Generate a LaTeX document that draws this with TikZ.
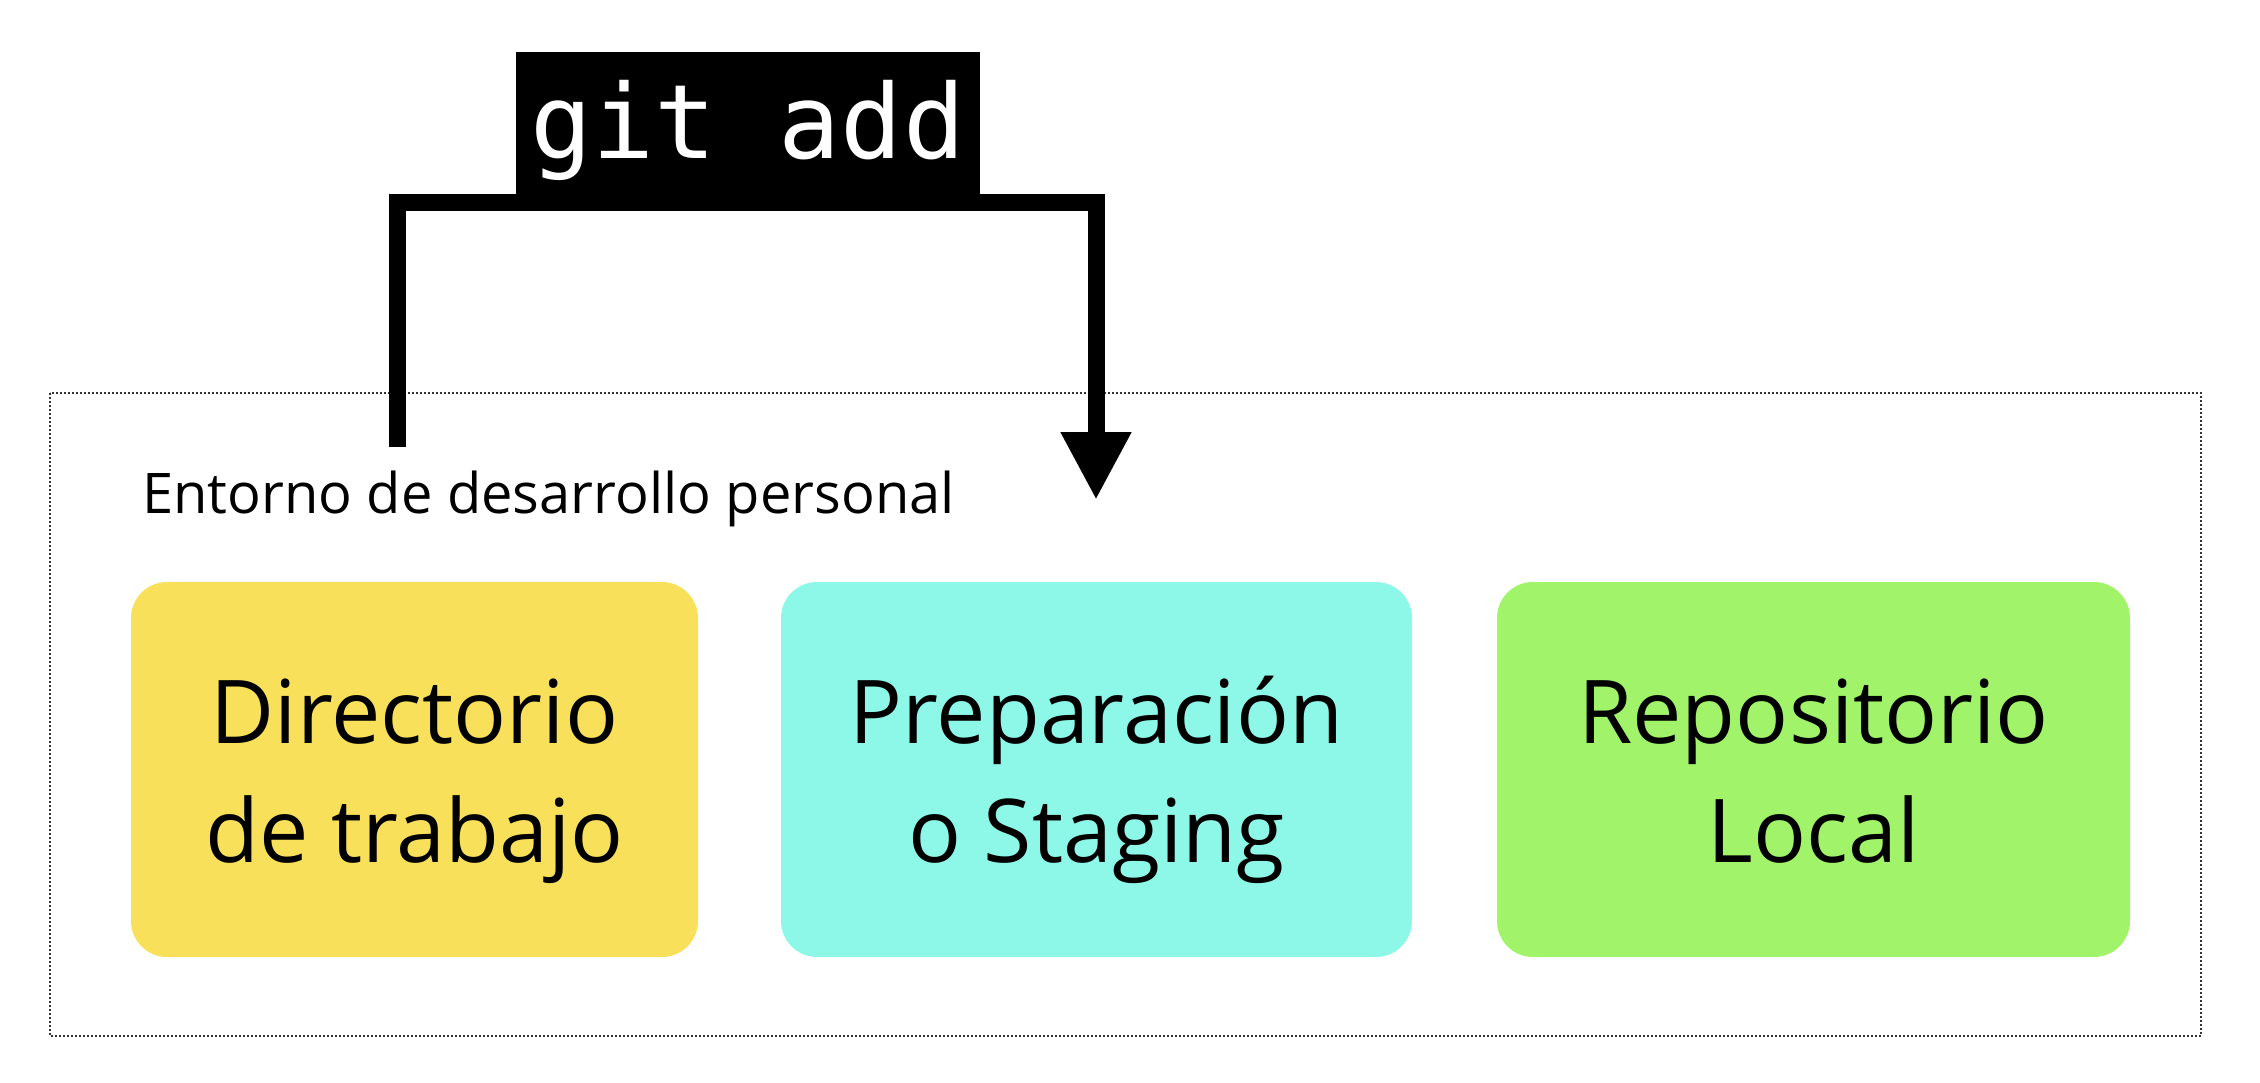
\documentclass[tikz,border=0pt]{standalone}
\usepackage{fontspec}
\setmainfont{Open Sans}
\newfontfamily\monofam{DejaVu Sans Mono}
\usetikzlibrary{arrows.meta}
\definecolor{cyellow}{HTML}{F9E05A}
\definecolor{ccyan}{HTML}{8EF8E8}
\definecolor{cgreen}{HTML}{A1F46A}
\newcommand{\boxtext}[2]{\begin{tabular}[t]{@{}c@{}}#1\\#2\end{tabular}}
\begin{document}
\begin{tikzpicture}[x=1pt,y=-1pt,
  stagebox/.style={rounded corners=36pt, minimum height=375pt, inner sep=0pt,
    text height=100pt, text depth=153pt,
    font=\fontsize{88}{119}\selectfont, text=black},
  frameline/.style={draw=black!80, line width=2pt, dash pattern=on 2pt off 2pt},
  connline/.style={line width=17pt, line join=miter, line cap=butt}]
\useasboundingbox (0,0) rectangle (2260,1082);
\draw[frameline] (50,393) rectangle (2201,1036);
\node[anchor=base west, inner sep=0pt, font=\fontsize{56}{66}\selectfont] (envlabel) at (142,513) {Entorno de desarrollo personal};
\node[stagebox, fill=cyellow, minimum width=567pt] (wd) at (414.5,769.5) {\boxtext{Directorio}{de trabajo}};
\node[stagebox, fill=ccyan, minimum width=631pt] (stg) at (1096.5,769.5) {\boxtext{Preparación}{o Staging}};
\node[stagebox, fill=cgreen, minimum width=633pt] (repo) at (1813.5,769.5) {\boxtext{Repositorio}{Local}};
\node[fill=black, text=white, inner sep=0pt, anchor=base, minimum width=464pt,
  text height=106pt, text depth=44pt, font=\monofam\fontsize{103}{110}\selectfont] (cmd) at (748,158) {git add};
\coordinate (src) at (397,447);
\coordinate (dst) at (1096,500);
\draw[connline, -{Triangle[length=68pt,width=66pt]}] (src) -- (src |- 0,202) -- (dst |- 0,202) -- (dst);
\end{tikzpicture}
\end{document}
